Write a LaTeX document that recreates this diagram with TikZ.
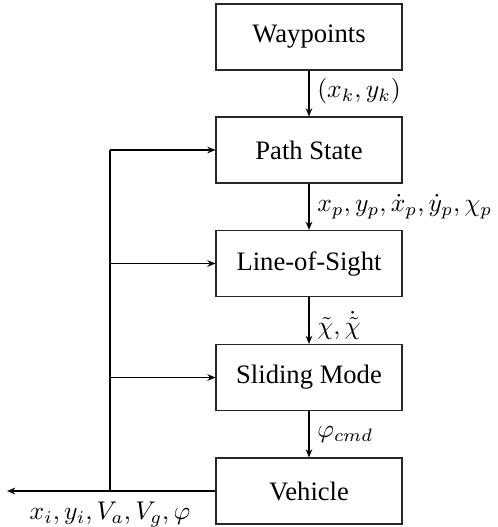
\documentclass[tikz,border=0pt]{standalone}
\usepackage{fontspec}
\setmainfont{Liberation Serif}
\usetikzlibrary{arrows.meta}
\begin{document}
\begin{tikzpicture}[x=0.390625pt,y=-0.390625pt,
  blk/.style={draw=black!85,line width=0.45pt,minimum width=72.6pt,minimum height=25.8pt,inner sep=0pt,font=\fontsize{10.4}{12}\selectfont},
  conn/.style={line width=0.45pt,-{Stealth[length=3.2pt,width=2.6pt]}},
  lbl/.style={font=\fontsize{10.4}{12}\selectfont,inner sep=1pt}]
\useasboundingbox (0,0) rectangle (498,527);
\node[blk] (wp) at (309,37) {Waypoints};
\node[blk] (ps) at (309,150) {Path State};
\node[blk] (los) at (309,263.5) {Line-of-Sight};
\node[blk] (sm) at (309,377.5) {Sliding Mode};
\node[blk] (veh) at (309,491) {Vehicle};
\coordinate (j) at (110,491);
\coordinate (out) at (7,491);
\coordinate (t1) at (110,150);
\coordinate (t2) at (110,263.5);
\coordinate (t3) at (110,377.5);
\draw[conn] (wp) -- node[lbl,right,xshift=2pt,yshift=1pt]{$(x_k,y_k)$} (ps);
\draw[conn] (ps) -- node[lbl,right,xshift=2pt]{$x_p,y_p,\dot{x}_p,\dot{y}_p,\chi_p$} (los);
\draw[conn] (los) -- node[lbl,right,xshift=2pt,yshift=-2pt]{$\tilde{\chi},\dot{\tilde{\chi}}$} (sm);
\draw[conn] (sm) -- node[lbl,right,xshift=2pt]{$\varphi_{cmd}$} (veh);
\draw[conn] (veh.west) -- (out);
\draw[line width=0.6pt] (j) -- (t1);
\draw[conn] (t1) -- (ps.west);
\draw[conn] (t2) -- (los.west);
\draw[conn] (t3) -- (sm.west);
\node[lbl,below,yshift=-3pt] (ol) at (j) {$x_i,y_i,V_a,V_g,\varphi$};
\end{tikzpicture}
\end{document}
